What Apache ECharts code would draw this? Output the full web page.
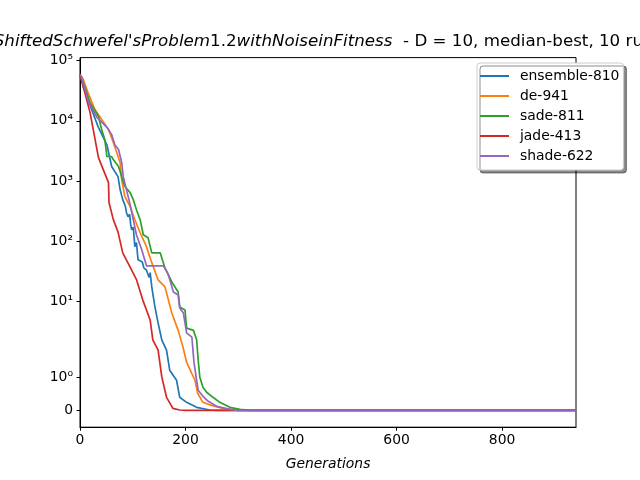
<!DOCTYPE html>
<html>
<head>
<meta charset="utf-8">
<script src="https://cdn.jsdelivr.net/npm/echarts@6/dist/echarts.min.js"></script>
<style>
  html, body { margin: 0; padding: 0; background: #fff; }
  #chart { width: 640px; height: 480px; }
</style>
</head>
<body>
<div id="chart"></div>
<script>
// median-best fitness per generation, [generation, value]
var ensemble810 = [[0,59000],[6,37000],[22,15500],[34,8100],[51,4000],[60,1740],[72,1180],[76,720],[81,490],[86,380],[88,300],[91,255],[94,280],[96,190],[98,155],[101,170],[104,81],[107,95],[110,49],[118,45],[121,36],[126,33],[131,25],[133,30],[136,17.4],[142,8.1],[148,4.4],[155,2.3],[164,1.8],[170,1.2],[183,0.9],[189,0.39],[202,0.24],[221,0.09],[246,0.01],[260,0],[939,0]];
var de941 = [[0,59000],[6,49000],[15,29700],[28,15500],[41,10500],[54,7200],[63,4400],[76,2030],[79,1050],[85,550],[95,374],[104,227],[114,138],[126,81],[136,44],[148,22.7],[161,17.4],[174,6.4],[186,3.3],[195,1.9],[202,1.44],[212,1.1],[218,0.9],[223,0.51],[233,0.24],[249,0.15],[271,0.06],[300,0],[939,0]];
var sade811 = [[0,59000],[6,44000],[19,20000],[35,11800],[41,7200],[47,4900],[51,2550],[60,2550],[63,2270],[73,1740],[79,1180],[85,810],[95,640],[101,490],[107,333],[114,227],[120,128],[129,114],[136,64],[152,64],[161,36],[174,21],[186,14.3],[189,8.1],[199,7.2],[202,3.6],[215,3.3],[221,2.3],[224,1.5],[227,1.0],[233,0.69],[240,0.54],[252,0.39],[265,0.24],[284,0.09],[303,0.03],[322,0],[939,0]];
var jade413 = [[0,59000],[3,55000],[19,13800],[35,2450],[54,940],[55,440],[63,230],[72,143],[81,64],[95,37],[107,23],[119,10.5],[133,4.9],[138,2.3],[148,1.8],[155,1.0],[164,0.39],[176,0.06],[189,0.01],[200,0],[939,0]];
var shade622 = [[0,59000],[3,53000],[16,21000],[32,11400],[51,7800],[60,5900],[66,4000],[73,3330],[79,2030],[82,1180],[88,720],[95,405],[101,227],[107,128],[117,72],[126,39],[158,39],[167,28.6],[177,14.3],[186,12.8],[189,7.8],[196,6.4],[202,3.0],[212,2.55],[216,1.44],[221,0.9],[224,0.6],[233,0.42],[243,0.27],[259,0.12],[284,0.03],[300,0],[939,0]];

var names = ['ensemble-810', 'de-941', 'sade-811', 'jade-413', 'shade-622'];
var colors = ['#1f77b4', '#ff7f0e', '#2ca02c', '#d62728', '#9467bd'];
var yTickValues = [0, 1, 10, 100, 1000, 10000, 100000];
var yTickLabels = ['0', '10⁰', '10¹', '10²', '10³', '10⁴', '10⁵'];

// symlog, linthresh 2, linscale 1 (in decades)
var LS = 1 / 0.9;
function symlog(v) {
  return v <= 2 ? v * LS / 2 : LS + Math.log10(v / 2);
}

var yTicks = yTickValues.map(symlog);

var chart = echarts.init(document.getElementById('chart'));
var font = 'DejaVu Sans';

var allData = [ensemble810, de941, sade811, jade413, shade622];
var series = allData.map(function (d, i) {
  return {
    name: names[i],
    type: 'line',
    data: d.map(function (p) { return [p[0], symlog(p[1])]; }),
    showSymbol: false,
    symbol: 'none',
    lineStyle: { width: 1.7, color: colors[i] },
    itemStyle: { color: colors[i] },
    animation: false,
    z: 2 + i
  };
});

var option = {
  animation: false,
  backgroundColor: '#fff',
  grid: {
    left: 80, right: 64, top: 57.6, bottom: 52.8,
    show: true, borderColor: '#000', borderWidth: 1,
    containLabel: false
  },
  graphic: [{
    type: 'text',
    x: 328,
    y: 42,
    style: {
      text: "{i|ShiftedSchwefel'sProblem}{n|1.2}{i|withNoiseinFitness}{n|  - D = 10, median-best, 10 runs}",
      align: 'center',
      verticalAlign: 'middle',
      rich: {
        i: { fontFamily: font, fontStyle: 'italic', fontSize: 16.7, fill: '#000' },
        n: { fontFamily: font, fontSize: 16.7, fill: '#000' }
      }
    }
  }],
  legend: {
    orient: 'vertical',
    left: 477,
    top: 63,
    padding: [6, 4, 7, 3],
    itemGap: 6,
    itemWidth: 29,
    itemHeight: 2,
    icon: 'rect',
    backgroundColor: '#fff',
    borderColor: '#cccccc',
    borderWidth: 1,
    borderRadius: 3,
    shadowColor: 'rgba(0,0,0,0.45)',
    shadowOffsetX: 3,
    shadowOffsetY: 3,
    shadowBlur: 0,
    textStyle: { fontFamily: font, fontSize: 13.9, color: '#000', lineHeight: 14, padding: [0, 0, 0, 6] },
    data: names
  },
  xAxis: {
    type: 'value',
    min: 0,
    max: 940,
    interval: 200,
    name: 'Generations',
    nameLocation: 'middle',
    nameGap: 30,
    nameTextStyle: { fontFamily: font, fontStyle: 'italic', fontSize: 13.9, color: '#000' },
    axisLine: { show: true, onZero: false, lineStyle: { color: '#000', width: 1 } },
    axisTick: { show: true, length: 3.5, lineStyle: { color: '#000', width: 1 } },
    axisLabel: { fontFamily: font, fontSize: 13.9, color: '#000', margin: 6, showMaxLabel: false },
    splitLine: { show: false }
  },
  yAxis: {
    type: 'value',
    min: -0.28,
    max: 5.86,
    axisLine: { show: true, onZero: false, lineStyle: { color: '#000', width: 1 } },
    axisTick: { show: true, length: 3.5, customValues: yTicks, lineStyle: { color: '#000', width: 1 } },
    axisLabel: {
      fontFamily: font, fontSize: 13.9, color: '#000', margin: 7,
      customValues: yTicks,
      formatter: function (v) {
        var best = 0;
        for (var k = 1; k < yTicks.length; k++) {
          if (Math.abs(yTicks[k] - v) < Math.abs(yTicks[best] - v)) best = k;
        }
        return yTickLabels[best];
      }
    },
    splitLine: { show: false }
  },
  series: series
};

chart.setOption(option);
</script>
</body>
</html>
